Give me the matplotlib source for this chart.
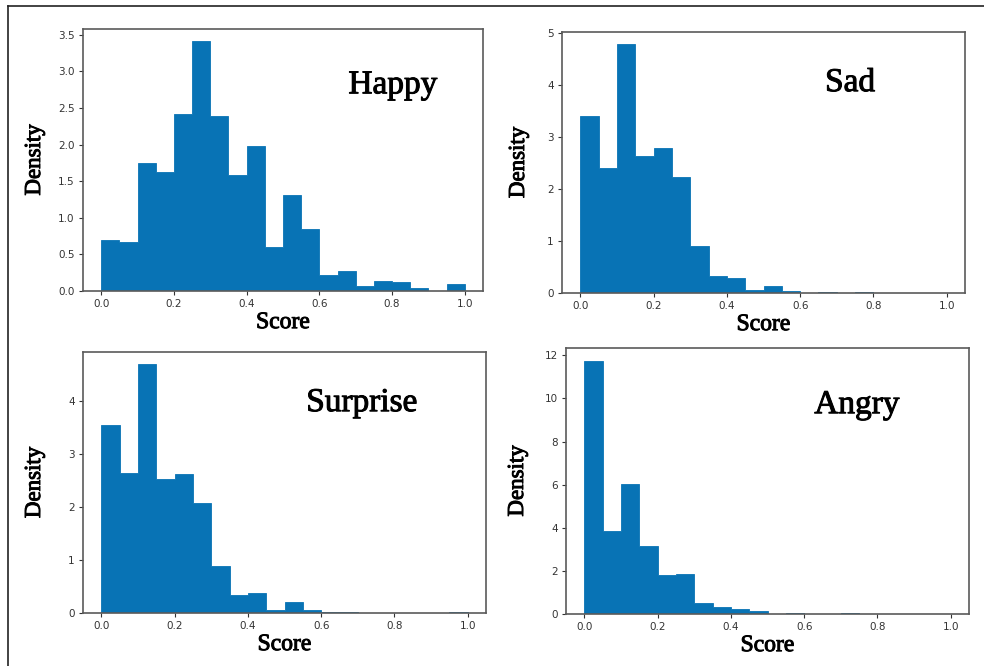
import numpy as np
import matplotlib
matplotlib.use("Agg")
import matplotlib.pyplot as plt
from matplotlib.lines import Line2D
import matplotlib.patheffects as pe

bin_edges = [round(0.05 * i, 2) for i in range(21)]

happy = [0.70, 0.665, 1.75, 1.62, 2.42, 3.41, 2.39, 1.59, 1.98, 0.60,
         1.31, 0.85, 0.22, 0.27, 0.07, 0.13, 0.12, 0.04, 0.0, 0.10]
sad = [3.41, 2.40, 4.78, 2.63, 2.79, 2.23, 0.90, 0.32, 0.28, 0.06,
       0.13, 0.04, 0.0, 0.015, 0.0, 0.02, 0.0, 0.0, 0.0, 0.0]
surprise = [3.54, 2.63, 4.68, 2.52, 2.61, 2.08, 0.88, 0.33, 0.38, 0.05,
            0.20, 0.06, 0.02, 0.02, 0.0, 0.0, 0.0, 0.0, 0.0, 0.02]
angry = [11.75, 3.87, 6.02, 3.17, 1.79, 1.85, 0.50, 0.34, 0.23, 0.12,
         0.0, 0.03, 0.0, 0.0, 0.03, 0.0, 0.0, 0.0, 0.0, 0.0]

titles = ["Happy", "Sad", "Surprise", "Angry"]
series = [happy, sad, surprise, angry]
yticks = [
    [0.0, 0.5, 1.0, 1.5, 2.0, 2.5, 3.0, 3.5],
    [0, 1, 2, 3, 4, 5],
    [0, 1, 2, 3, 4],
    [0, 2, 4, 6, 8, 10, 12],
]
ytick_labels = [
    ["0.0", "0.5", "1.0", "1.5", "2.0", "2.5", "3.0", "3.5"],
    ["0", "1", "2", "3", "4", "5"],
    ["0", "1", "2", "3", "4"],
    ["0", "2", "4", "6", "8", "10", "12"],
]
xticks = [0.0, 0.2, 0.4, 0.6, 0.8, 1.0]
xtick_labels = ["0.0", "0.2", "0.4", "0.6", "0.8", "1.0"]

W, H = 984, 666
fig = plt.figure(figsize=(W / 100, H / 100), dpi=100)

# axes boxes in pixels: left, top, right, bottom
boxes = [
    (83, 29, 483, 291),
    (562, 32, 965, 293),
    (83, 352, 486, 613),
    (566, 348, 969, 614),
]
title_pos = [(0.775, 0.786), (0.715, 0.805), (0.692, 0.805), (0.722, 0.786)]
ylabel_x = [45, 529, 45, 528]   # pixel x of the Density label (right edge)

bar_color = "#0873b5"
serif = ["Liberation Serif", "DejaVu Serif"]
thick = [pe.withStroke(linewidth=0.7, foreground="black")]

for i, (l, t, r, b) in enumerate(boxes):
    ax = fig.add_axes([l / W, 1 - b / H, (r - l) / W, (b - t) / H])
    centers = [(bin_edges[k] + bin_edges[k + 1]) / 2 for k in range(20)]
    ax.hist(centers, bins=bin_edges, weights=series[i], color=bar_color,
            histtype="stepfilled", edgecolor=bar_color, linewidth=0.6)
    ax.set_xticks(xticks)
    ax.set_xticklabels(xtick_labels)
    ax.set_yticks(yticks[i])
    ax.set_yticklabels(ytick_labels[i])
    ax.tick_params(labelsize=7.5, colors="#333333", length=3, width=0.8, pad=3)
    for sp in ax.spines.values():
        sp.set_color("#5a5a5a")
        sp.set_linewidth(1.2)
    ax.set_xlabel("Score", fontsize=17, family=serif, labelpad=2, path_effects=thick)
    ax.set_ylabel("Density", fontsize=16.5, family=serif, path_effects=thick)
    ax.yaxis.set_label_coords((ylabel_x[i] - l) / (r - l), 0.5)
    ax.text(title_pos[i][0], title_pos[i][1], titles[i], transform=ax.transAxes,
            ha="center", va="center", fontsize=24, family=serif, path_effects=thick)

# outer frame (top and left lines)
fig.add_artist(Line2D([8 / W, 1.0], [1 - 6 / H, 1 - 6 / H], transform=fig.transFigure,
                      color="#222222", linewidth=1.2))
fig.add_artist(Line2D([8 / W, 8 / W], [0.0, 1 - 6 / H], transform=fig.transFigure,
                      color="#222222", linewidth=1.2))

fig.savefig("out.png", dpi=100)
